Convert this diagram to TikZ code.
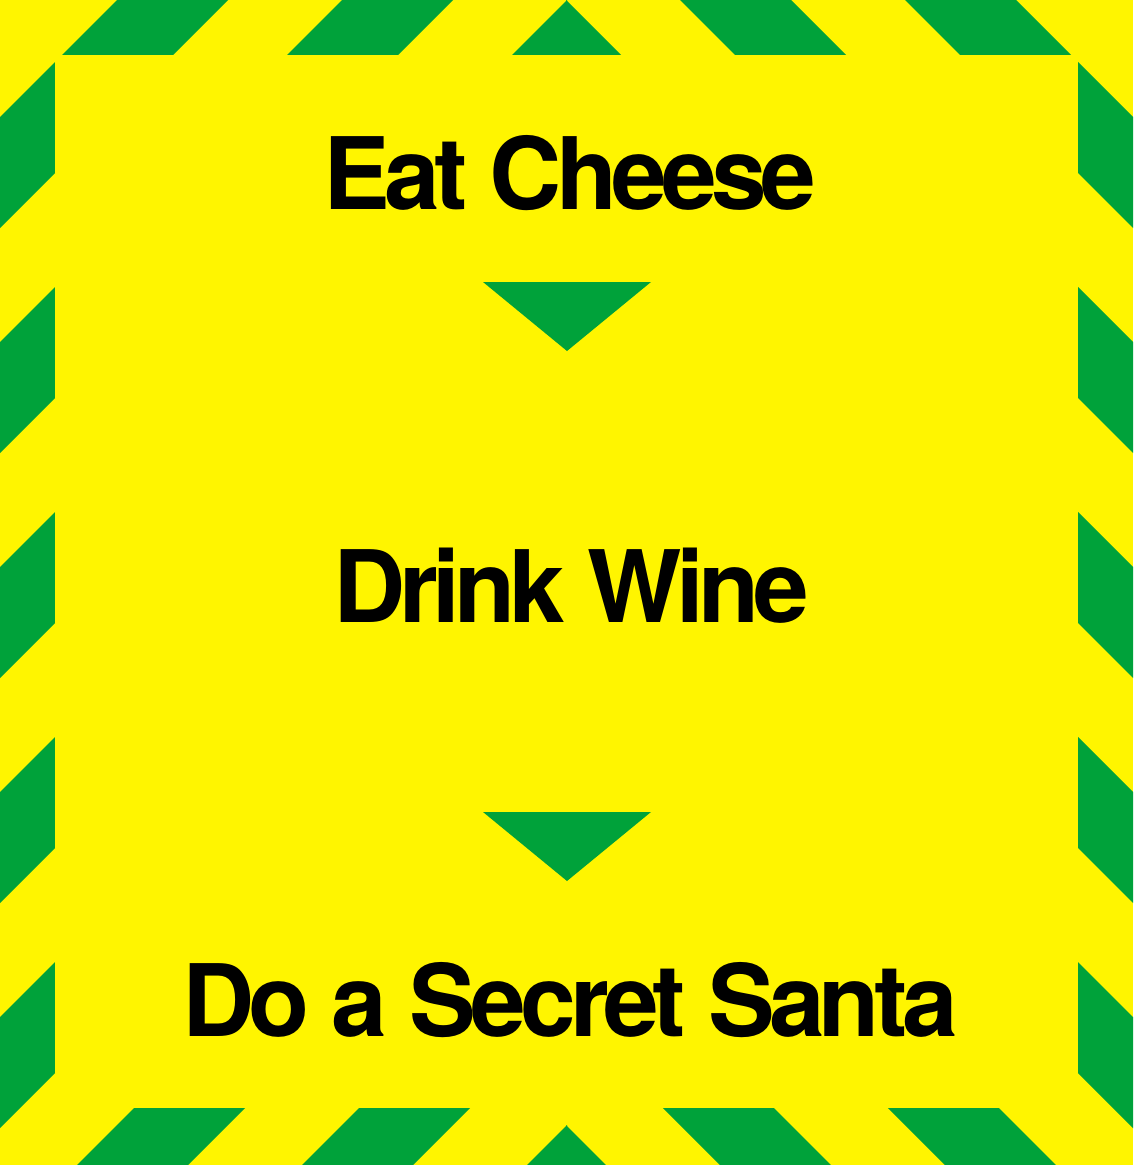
\documentclass[tikz,border=0pt]{standalone}
\usepackage{fontspec}
\usepackage{tikz}
\newfontfamily\signfont[LetterSpace=-5.8]{TeX Gyre Heros}
\definecolor{signyellow}{RGB}{255,245,0}
\definecolor{signgreen}{RGB}{0,162,58}

\begin{document}
\begin{tikzpicture}
[x=1pt,y=-1pt,stripe/.style={fill=signgreen},chevron/.style={fill=signgreen},
sign/.style={font={\signfont\bfseries\fontsize{100}{100}\selectfont},anchor=base,inner sep=0pt},]

\fill[signyellow] (0,0) rectangle (1133,1165);
\useasboundingbox (0,0) rectangle (1133,1165);

% border stripes, left half and its mirror
\begin{scope}
\clip (0,0) rectangle (567,1165);
\foreach \k in {0,...,7}
  \fill[stripe] ({117+225*\k+60},-60) -- ({228+225*\k+60},-60) -- ({228+225*\k-1225},1225) -- ({117+225*\k-1225},1225) -- cycle;
\end{scope}
\begin{scope}[shift={(1133,0)},xscale=-1]
\clip (0,0) rectangle (567,1165);
\foreach \k in {0,...,7}
  \fill[stripe] ({117+225*\k+60},-60) -- ({228+225*\k+60},-60) -- ({228+225*\k-1225},1225) -- ({117+225*\k-1225},1225) -- cycle;
\end{scope}
\fill[signyellow] (55,55) rectangle (1078,1108);

\node[sign] (cheese) at (570,209) {Eat Cheese};
\node[sign] (wine) at (571,622) {Drink Wine};
\node[sign] (santa) at (570,1036) {Do a Secret Santa};

\fill[chevron] (483,282) -- (651,282) -- (567,351) -- cycle;
\fill[chevron] (483,812) -- (651,812) -- (567,881) -- cycle;
%\draw (cheese) -- (wine);

\end{tikzpicture}
\end{document}
